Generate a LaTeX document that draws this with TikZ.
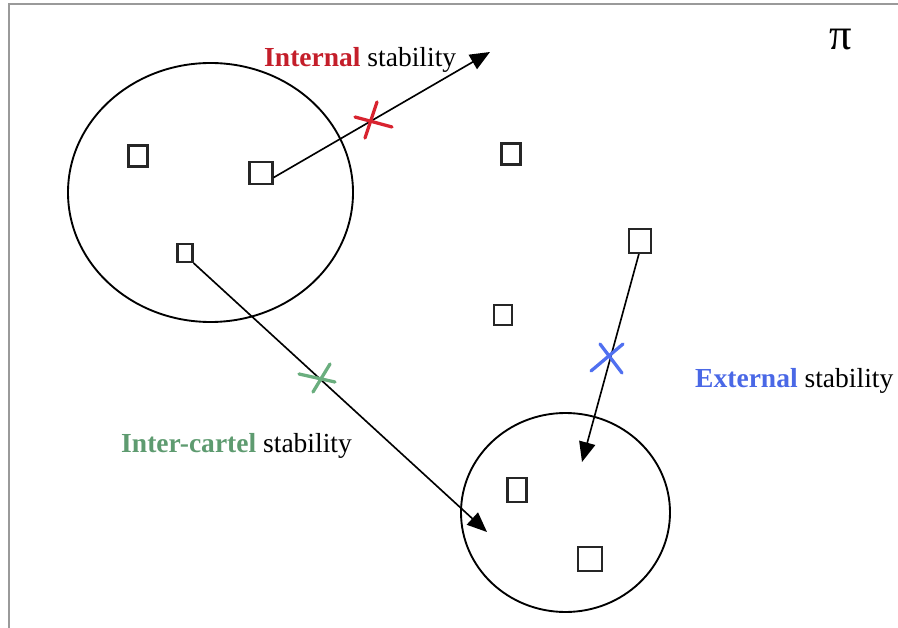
\documentclass[tikz,border=0pt]{standalone}
\usepackage{fontspec}
\setmainfont{Liberation Serif}
\usetikzlibrary{arrows.meta,positioning}
\definecolor{stabred}{HTML}{C41E2A}
\definecolor{stabgreen}{HTML}{5E9B70}
\definecolor{stabblue}{HTML}{4A68E6}
\definecolor{crossred}{HTML}{D8232F}
\definecolor{crossgreen}{HTML}{6AAE7E}
\definecolor{crossblue}{HTML}{5070F0}
\definecolor{framegray}{HTML}{9A9A9A}

\tikzset{
  firm/.style 2 args={draw=black!85,line width=2.1pt,inner sep=0pt,
    minimum width=#1,minimum height=#2},
  deviate/.style={draw=black,line width=1.4pt,-{Triangle[length=17pt,width=14pt]}},
  cut/.style={line width=2.8pt,line cap=round},
  legend/.style={font=\fontsize{23.5}{27}\selectfont,inner sep=0pt,anchor=base west},
}

\begin{document}
\begin{tikzpicture}[x=0.03cm,y=-0.03cm]

  % ---- Frame ---------------------------------------------------
  \useasboundingbox (0,0) rectangle (898,628);
  \draw[framegray,line width=2.4pt] (9,628) -- (9,4) -- (898,4);

  % ============================================================
  %  CARTELS
  % ============================================================
  \draw[line width=1.6pt] (210.5,192.5) ellipse (142.5 and 129.5);
  \draw[line width=1.6pt] (565.5,512.5) ellipse (104.5 and 99.5);

  % ---- Firms ---------------------------------------------------
  \node[firm={0.56cm}{0.62cm}] (sqA) at (138,156) {};
  \node[firm={0.68cm}{0.65cm}] (sqB) at (261,173) {};
  \node[firm={0.44cm}{0.53cm}] (sqC) at (185,253) {};
  \node[firm={0.56cm}{0.62cm}] (sqD) at (511,154) {};
  \node[firm={0.65cm}{0.71cm}] (sqE) at (640,241) {};
  \node[firm={0.53cm}{0.59cm}] (sqF) at (503,315) {};
  \node[firm={0.56cm}{0.71cm}] (sqG) at (517,490) {};
  \node[firm={0.71cm}{0.71cm}] (sqH) at (590,559) {};

  % ---- Deviations ----------------------------------------------
  \coordinate (outInt)   at (490,52);
  \coordinate (outInter) at (487,532);
  \coordinate (outExt)   at (582,462);
  \draw[deviate] (sqB.-20) -- (outInt);
  \draw[deviate] (sqC.south east) -- (outInter);
  \draw[deviate] (sqE.-95) -- (outExt);

  % ---- Blocked moves -------------------------------------------
  \draw[cut,crossred] (355,117) -- (392,127);
  \draw[cut,crossred] (377,102) -- (365,138);
  \draw[cut,crossgreen] (299,374) -- (335,382);
  \draw[cut,crossgreen] (330,364) -- (313,392);
  \draw[cut,crossblue] (600,344) -- (622,373);
  \draw[cut,crossblue] (623,344) -- (591,371);

  % ---- Labels --------------------------------------------------
  \node[legend] (lblInt) at (264,67)
    {\textcolor{stabred}{\textbf{Internal}} stability};
  \node[legend] (lblInter) at (121,452)
    {\textcolor{stabgreen}{\textbf{Inter-cartel}} stability};
  \node[legend] (lblExt) at (695,387)
    {\textcolor{stabblue}{\textbf{External}} stability};
  \node[font=\fontsize{38}{42}\selectfont,inner sep=0pt,anchor=base] (payoff)
    at (841,50) {π};

\end{tikzpicture}
\end{document}
